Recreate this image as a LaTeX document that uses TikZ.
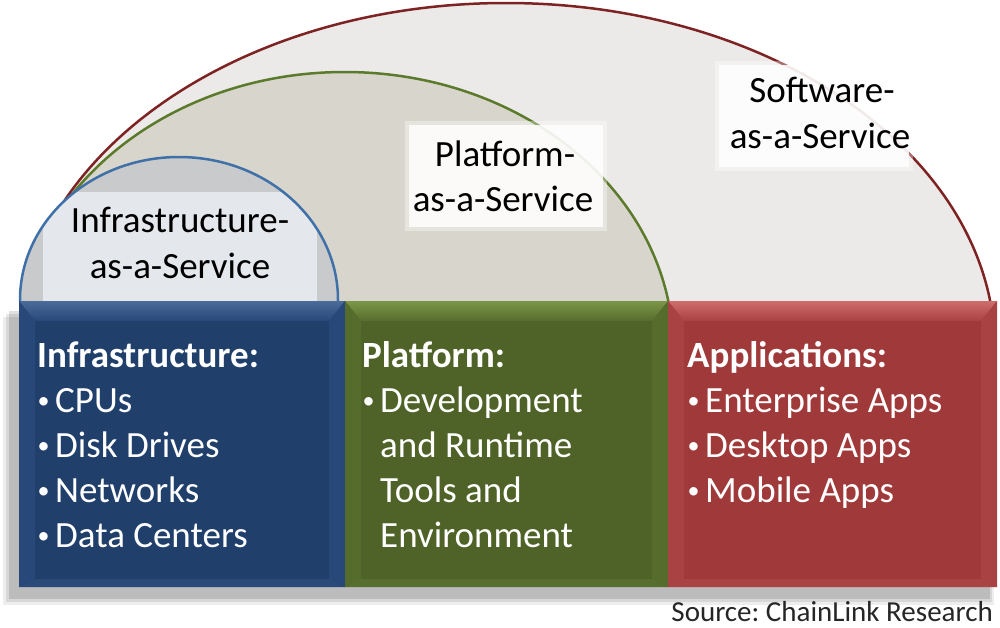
\documentclass[tikz,border=0pt]{standalone}
\usepackage{fontspec}
\setmainfont{Carlito}
\definecolor{iaasblue}{HTML}{213F6B}
\definecolor{iaastop}{HTML}{4A6C99}
\definecolor{iaasside}{HTML}{284879}
\definecolor{iaasbot}{HTML}{2A4A78}
\definecolor{paasgreen}{HTML}{4F6328}
\definecolor{paastop}{HTML}{7C9748}
\definecolor{paasside}{HTML}{566C2D}
\definecolor{paasbot}{HTML}{586E2F}
\definecolor{saasred}{HTML}{A03A3A}
\definecolor{saastop}{HTML}{CF6C6C}
\definecolor{saasside}{HTML}{A94242}
\definecolor{saasbot}{HTML}{AA4444}
\definecolor{outerfill}{HTML}{ECEAE8}
\definecolor{outerline}{HTML}{7E2323}
\definecolor{midfill}{HTML}{D8D6CC}
\definecolor{midline}{HTML}{5B7A2B}
\definecolor{innerfill}{HTML}{C9CACC}
\definecolor{innerline}{HTML}{4070A8}
\definecolor{innerlabel}{HTML}{E4E7EC}
\tikzset{
  layerbox/.style={draw=none, inner sep=0pt, outer sep=0pt, minimum width=#1, minimum height=286pt, anchor=north west},
  boxtext/.style={text=white, inner sep=0pt, anchor=base west, font=\fontsize{37}{45}\selectfont},
  boxhead/.style={boxtext, font=\fontsize{37}{45}\selectfont\bfseries},
  domelabel/.style={text=black, inner sep=0pt, anchor=base, font=\fontsize{37}{45}\selectfont},
  domeline/.style={line width=2.5pt},
}
\newcommand{\bul}{\makebox[18pt][l]{\hspace{0.5pt}\raisebox{3.5pt}{\fontsize{24}{24}\selectfont •}}}
\newcommand{\bevel}[4]{% node, top, side, bottom
  \shade[top color=#2, bottom color=#3] (#1.north west) -- (#1.north east) -- ([shift={(-16,20)}]#1.north east) -- ([shift={(16,20)}]#1.north west) -- cycle;
  \fill[#3] (#1.north west) -- ([shift={(16,20)}]#1.north west) -- ([shift={(16,-8)}]#1.south west) -- (#1.south west) -- cycle;
  \fill[#3] (#1.north east) -- ([shift={(-16,20)}]#1.north east) -- ([shift={(-16,-8)}]#1.south east) -- (#1.south east) -- cycle;
  \fill[#4] (#1.south west) -- (#1.south east) -- ([shift={(-16,-8)}]#1.south east) -- ([shift={(16,-8)}]#1.south west) -- cycle;
}
\newcommand{\softbox}[4]{% x1,y1,x2,y2 : soft white label backing
  \fill[white, opacity=.35] (#1-3,#2-3) rectangle (#3+3,#4+3);
  \fill[white, opacity=.85] (#1+1,#2+1) rectangle (#3-1,#4-1);
}
\begin{document}
\begin{tikzpicture}[x=1pt,y=-1pt]
\useasboundingbox (0,0) rectangle (1000,627);
\fill[white] (0,0) rectangle (1000,627);

% domes
\begin{scope}
  \clip (0,0) rectangle (1000,301);
  \filldraw[fill=outerfill, draw=outerline, domeline] (506,350) ellipse [x radius=489pt, y radius=347pt];
  \filldraw[fill=midfill, draw=midline, domeline] (344.6,350) ellipse [x radius=328.8pt, y radius=278pt];
  \softbox{718}{64}{910}{168}
  \softbox{408}{124}{604}{228}
  \fill[innerfill] (179,300) ellipse [x radius=159pt, y radius=143pt];
  \begin{scope}
    \clip (179,300) ellipse [x radius=159pt, y radius=143pt];
    \fill[innerlabel] (43,192) rectangle (317,305);
  \end{scope}
  \draw[innerline, domeline] (179,300) ellipse [x radius=159pt, y radius=143pt];
\end{scope}

% dome labels
\node[domelabel] (iaas1) at (180,232) {Infrastructure-};
\node[domelabel] (iaas2) at (180,278) {as-a-Service};
\node[domelabel] (paas1) at (505,166) {Platform-};
\node[domelabel] (paas2) at (503,211) {as-a-Service};
\node[domelabel] (saas1) at (822,102) {Software-};
\node[domelabel] (saas2) at (820,148) {as-a-Service};

% shadow
\fill[black, opacity=.07] (3,317) rectangle (994,605);
\fill[black, opacity=.09] (6,314) rectangle (992,602);
\fill[black, opacity=.12] (9,311) rectangle (990,599);

% boxes
\node[layerbox=326pt, fill=iaasblue] (ibox) at (19,301) {};
\node[layerbox=323pt, fill=paasgreen] (pbox) at (345,301) {};
\node[layerbox=329pt, fill=saasred] (sbox) at (668,301) {};
\bevel{ibox}{iaastop}{iaasside}{iaasbot}
\bevel{pbox}{paastop}{paasside}{paasbot}
\bevel{sbox}{saastop}{saasside}{saasbot}

% box texts
\node[boxhead] (ih) at (37,367) {Infrastructure:};
\node[boxtext] (i1) at (37,412) {\bul CPUs};
\node[boxtext] (i2) at (37,457) {\bul Disk Drives};
\node[boxtext] (i3) at (37,502) {\bul Networks};
\node[boxtext] (i4) at (37,547) {\bul Data Centers};

\node[boxhead] (ph) at (362,367) {Platform:};
\node[boxtext] (p1) at (362,412) {\bul Development};
\node[boxtext] (p2) at (380,457) {and Runtime};
\node[boxtext] (p3) at (380,502) {Tools and};
\node[boxtext] (p4) at (380,547) {Environment};

\node[boxhead] (sh) at (687,367) {Applications:};
\node[boxtext] (s1) at (687,412) {\bul Enterprise Apps};
\node[boxtext] (s2) at (687,457) {\bul Desktop Apps};
\node[boxtext] (s3) at (687,502) {\bul Mobile Apps};

\node[anchor=base east, inner sep=0pt, text=black!85, font=\fontsize{29}{34}\selectfont\frenchspacing] (src) at (993,621) {Source: ChainLink Research};
\end{tikzpicture}
\end{document}
